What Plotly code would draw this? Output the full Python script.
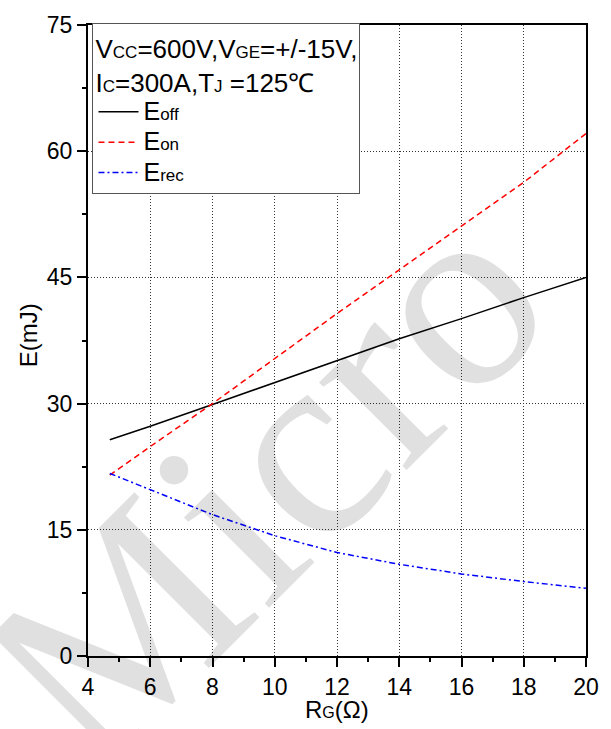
import plotly.graph_objects as go

# Data
rg = [4.7, 6, 8, 10, 12, 14, 16, 18, 20]
eoff = [25.7, 27.3, 29.9, 32.5, 35.1, 37.7, 40.1, 42.6, 45.0]
eon = [21.5, 24.9, 30.0, 35.4, 40.7, 45.9, 51.1, 56.3, 62.1]
erec = [21.7, 19.8, 16.8, 14.3, 12.3, 10.9, 9.75, 8.85, 8.05]

x_ticks = [4, 6, 8, 10, 12, 14, 16, 18, 20]
y_ticks = [0, 15, 30, 45, 60, 75]

SM = "<span style='font-size:17px'>{}</span>"
BIG = "<span style='font-size:25px'>{}</span>"

fig = go.Figure()
fig.add_trace(go.Scatter(x=rg, y=eoff, mode="lines", name=BIG.format("E") + SM.format("off"),
                         line=dict(color="black", width=1.5)))
fig.add_trace(go.Scatter(x=rg, y=eon, mode="lines", name=BIG.format("E") + SM.format("on"),
                         line=dict(color="#ff0000", width=1.5, dash="6px,4px")))
fig.add_trace(go.Scatter(x=rg, y=erec, mode="lines", name=BIG.format("E") + SM.format("rec"),
                         line=dict(color="#0000ff", width=1.5, dash="6px,3px,2px,3px")))

axis_common = dict(
    showline=True, linecolor="black", linewidth=2, mirror=True,
    ticks="outside", ticklen=9, tickwidth=2, tickcolor="black",
    showgrid=True, gridcolor="#333333", gridwidth=1, griddash="1px,2px",
    zeroline=False,
    tickfont=dict(family="Liberation Sans, Arial", size=23, color="black"),
)

fig.update_xaxes(**axis_common, range=[4, 20], tickvals=x_ticks,
                 minor=dict(ticks="outside", ticklen=4, tickwidth=2, dtick=1, tick0=4,
                            tickcolor="black", showgrid=False))
fig.update_yaxes(**axis_common, range=[0, 75], tickvals=y_ticks,
                 minor=dict(ticks="outside", ticklen=4, tickwidth=2, dtick=7.5, tick0=0,
                            tickcolor="black", showgrid=False))

# axis titles
fig.add_annotation(x=0.5, y=-0.0855, xref="paper", yref="paper", showarrow=False,
                   xanchor="center", yanchor="middle",
                   text="R" + "<span style='font-size:16px'>G</span>" + "(Ω)",
                   font=dict(family="Liberation Sans, Arial", size=24, color="black"))
fig.add_annotation(x=-0.1195, y=0.509, xref="paper", yref="paper", showarrow=False,
                   xanchor="center", yanchor="middle", textangle=-90,
                   text="E(mJ)",
                   font=dict(family="Liberation Sans, Arial", size=24, color="black"))

# watermark
fig.add_annotation(x=9.65, y=20.5, xref="x", yref="y", text="Micro", showarrow=False,
                   textangle=-45,
                   font=dict(family="Liberation Serif, Times New Roman", size=270,
                             color="rgba(0,0,0,0.12)"))

fig.update_layout(
    width=611, height=729,
    margin=dict(l=88, r=21, t=18, b=73),
    paper_bgcolor="white", plot_bgcolor="white",
    showlegend=True,
    legend=dict(
        x=0.009, y=1.003, xanchor="left", yanchor="top",
        bgcolor="white", bordercolor="#555555", borderwidth=1,
        font=dict(family="Liberation Sans, Arial", size=21, color="black"),
        title=dict(text="V" + SM.format("CC") + "=600V,V" + SM.format("GE") + "=+/-15V,<br>"
                        + "I" + SM.format("C") + "=300A,T" + SM.format("J") + " =125℃",
                   font=dict(family="Liberation Sans, Arial", size=26, color="black"),
                   side="top"),
        tracegroupgap=0, itemwidth=40,
    ),
)

fig.write_html("out.html")
